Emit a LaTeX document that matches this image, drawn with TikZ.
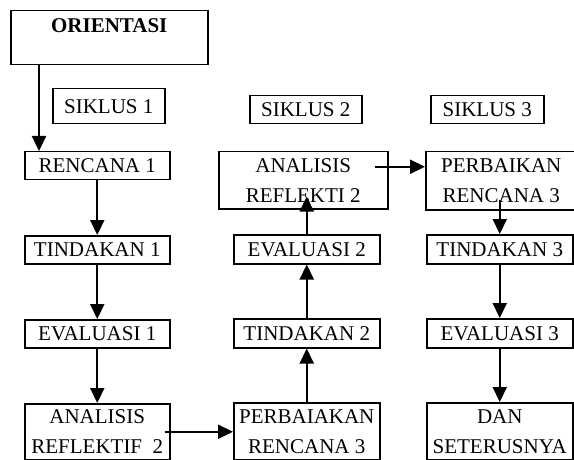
\documentclass[tikz,border=0pt]{standalone}
\usepackage{fontspec}
\setmainfont{Liberation Serif}
\usetikzlibrary{arrows.meta}
\begin{document}
\begin{tikzpicture}[x=1pt,y=-1pt,
  box/.style={draw=black,line width=1.5pt,anchor=north west,inner sep=0pt,align=center,
    font=\fontsize{21}{30}\selectfont},
  arr/.style={line width=2.2pt,-{Triangle[length=15pt,width=14pt]}}]
\useasboundingbox (0,0) rectangle (574,460);
% column 1
\node[box,minimum width=197pt,text height=15pt,text depth=26pt,inner ysep=6.5pt,font=\fontsize{21}{30}\selectfont\bfseries] (orient) at (10,10) {ORIENTASI};
\node[box,minimum width=112pt,minimum height=35pt] (s1) at (52,88) {SIKLUS 1};
\node[box,minimum width=145pt,minimum height=28pt] (r1) at (24,151) {RENCANA 1};
\node[box,minimum width=145pt,minimum height=28pt] (t1) at (24,235) {TINDAKAN 1};
\node[box,minimum width=145pt,minimum height=28pt] (e1) at (24,319) {EVALUASI 1};
\node[box,minimum width=145pt,minimum height=56pt] (a1) at (24,403) {ANALISIS\\REFLEKTIF\ \ 2};
% column 2
\node[box,minimum width=112pt,minimum height=28pt] (s2) at (249,95) {SIKLUS 2};
\node[box,minimum width=169pt,minimum height=57pt] (a2) at (218,151) {ANALISIS\\REFLEKTI 2};
\node[box,minimum width=146pt,minimum height=29pt] (e2) at (233,234) {EVALUASI 2};
\node[box,minimum width=146pt,minimum height=29pt] (t2) at (233,318) {TINDAKAN 2};
\node[box,minimum width=146pt,minimum height=57pt] (p2) at (233,402) {PERBAIAKAN\\RENCANA 3};
% column 3
\node[box,minimum width=113pt,minimum height=28pt] (s3) at (430,95) {SIKLUS 3};
\node[box,minimum width=151pt,minimum height=58pt] (p3) at (425,151) {PERBAIKAN\\RENCANA 3};
\node[box,minimum width=146pt,minimum height=29pt] (t3) at (426,234) {TINDAKAN 3};
\node[box,minimum width=146pt,minimum height=29pt] (e3) at (426,318) {EVALUASI 3};
\node[box,minimum width=146pt,minimum height=57pt] (d3) at (426,402) {DAN\\SETERUSNYA};
% arrows
\draw[arr] ([xshift=29pt]orient.south west) -- ([xshift=15pt]r1.north west);
\draw[arr] (r1.south) -- (t1.north);
\draw[arr] (t1.south) -- (e1.north);
\draw[arr] (e1.south) -- (a1.north);
\draw[arr] ([xshift=-6pt]a1.east) -- (a1.east -| p2.west);
\draw[arr] (p2.north) -- (t2.south);
\draw[arr] (t2.north) -- (e2.south);
\draw[arr] (e2.north) -- ([yshift=13pt]e2.north |- a2.south);
\draw[arr] ([xshift=-14pt,yshift=13.5pt]a2.east) -- ([yshift=13.5pt]a2.east -| p3.west);
\draw[arr] ([yshift=11pt]t3.north |- p3.south) -- (t3.north);
\draw[arr] (t3.south) -- (e3.north);
\draw[arr] (e3.south) -- (d3.north);
\end{tikzpicture}
\end{document}
